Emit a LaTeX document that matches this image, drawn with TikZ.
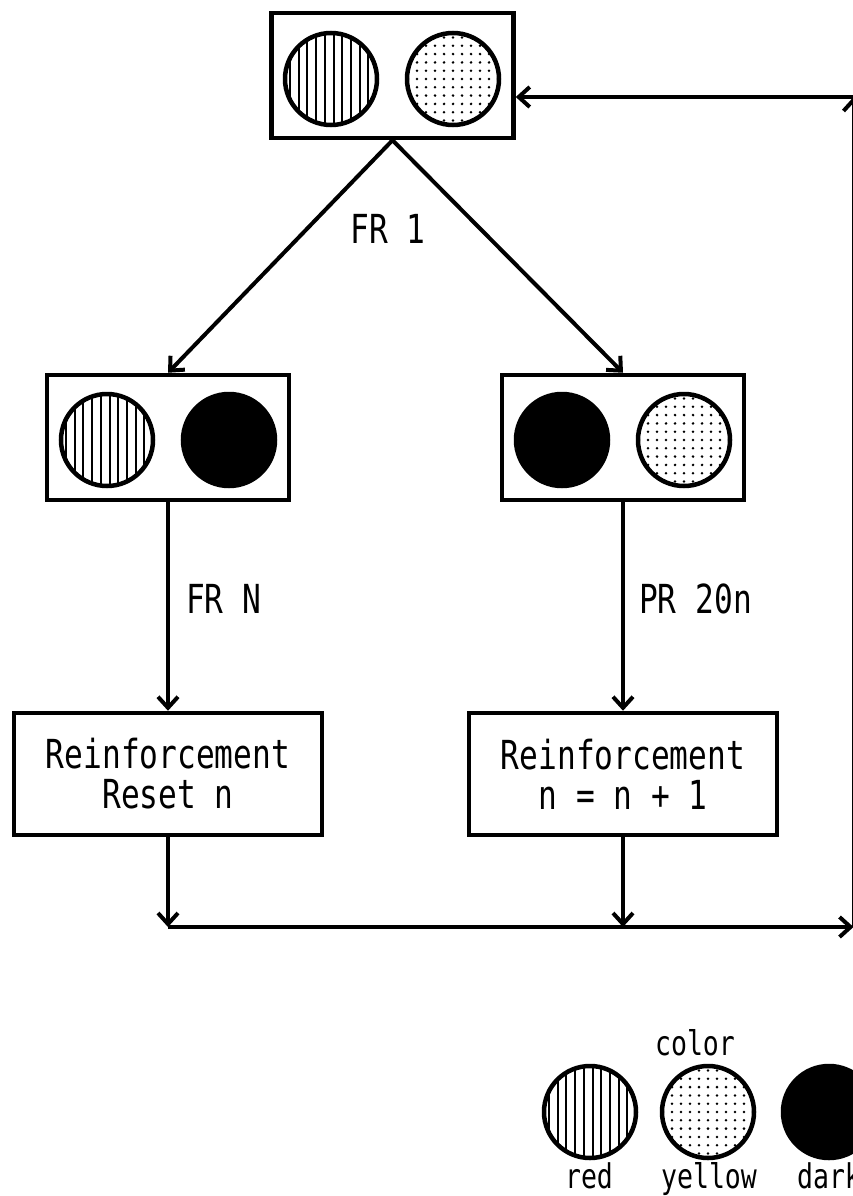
\documentclass[tikz,border=0pt]{standalone}
\usepackage{fontspec}
\setmainfont[FakeStretch=0.78]{DejaVu Sans Mono}
\usetikzlibrary{arrows.meta}

\tikzset{
  lampbox/.style={draw, line width=4.5pt, minimum width=242pt, minimum height=125pt, inner sep=0pt},
  rfbox/.style={draw, line width=4.5pt, minimum width=308pt, minimum height=122pt, inner sep=0pt,
                align=center, font=\fontsize{40}{40}\selectfont},
  lamp/.style={circle, draw, line width=4.5pt, minimum size=92pt, inner sep=0pt},
  redlamp/.style={lamp, path picture={
      \foreach \i in {-5,...,5}
        \draw[line width=2pt] ([xshift=\i*8.7pt+2.5pt]path picture bounding box.north)
          -- ([xshift=\i*8.7pt+2.5pt]path picture bounding box.south);}},
  yellowlamp/.style={lamp, path picture={
      \foreach \i in {-5,...,5}
        \foreach \j in {-6,...,6}
          \fill ([shift={(\i*9pt,\j*8.3pt)}]path picture bounding box.center) circle (1.4pt);}},
  darklamp/.style={lamp, fill=black},
  arr/.style={line width=4pt, -{Straight Barb[length=11pt,width=20pt]}},
  lbl/.style={font=\fontsize{40}{40}\selectfont, inner sep=0pt},
  keylbl/.style={font=\fontsize{34}{34}\selectfont, inner sep=0pt},
}

\begin{document}
\begin{tikzpicture}[x=1pt,y=-1pt]
\useasboundingbox (0,0) rectangle (853,1196);
\clip (0,0) rectangle (853,1196);
%---------------------------------------------------
\node[lampbox] (start) at (392.5,75.5) {};
\node[redlamp] (startR) at (331,79) {};
\node[yellowlamp] (startY) at (453,79) {};
%---------------------------------------------------
\node[lampbox] (choiceA) at (168,437.5) {};
\node[redlamp] (choiceAR) at (107,440) {};
\node[darklamp] (choiceAD) at (229,440) {};
%---------------------------------------------------
\node[lampbox] (choiceB) at (623,437.5) {};
\node[darklamp] (choiceBD) at (562,440) {};
\node[yellowlamp] (choiceBY) at (684,440) {};
%---------------------------------------------------
\node[rfbox] (rfA) at (168,774) {Reinforcement\\Reset n};
\node[rfbox] (rfB) at (623,774) {Reinforcement\\n = n + 1};
%---------------------------------------------------
\draw[arr] (start.south) -- (choiceA.north);
\draw[arr] (start.south) -- (choiceB.north);
\node[lbl, anchor=base] (fr1) at (388,243) {FR 1};
\draw[arr] (choiceA.south) -- (rfA.north);
\node[lbl, anchor=base west] (frn) at (186,613) {FR N};
\draw[arr] (choiceB.south) -- (rfB.north);
\node[lbl, anchor=base west] (pr20) at (639,613) {PR 20n};
%---------------------------------------------------
\coordinate (joinA) at (168,927);
\coordinate (joinB) at (623,927);
\coordinate (corner) at (853.5,927);
\coordinate (back) at (853.5,97);
\draw[arr] (rfA.south) -- (joinA);
\draw[arr] (rfB.south) -- (joinB);
\draw[arr] (joinA) -- (corner);
\draw[arr] (corner) -- (back);
\draw[arr] (back) -- (start.east |- back);
%---------------------------------------------------
\node[keylbl, anchor=base] (keyT) at (695,1055) {color};
\node[redlamp] (keyR) at (590,1112) {};
\node[yellowlamp] (keyY) at (708,1112) {};
\node[darklamp] (keyD) at (829,1112) {};
\node[keylbl, anchor=base] (keyRt) at (589,1188) {red};
\node[keylbl, anchor=base] (keyYt) at (709,1188) {yellow};
\node[keylbl, anchor=base] (keyDt) at (829,1188) {dark};
\end{tikzpicture}
\end{document}
